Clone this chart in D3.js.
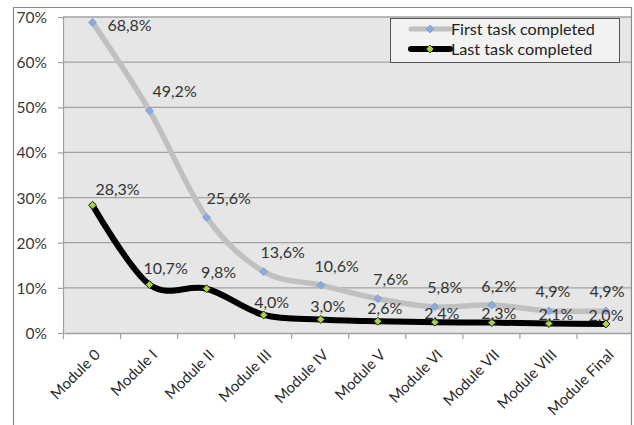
<!DOCTYPE html>
<html><head><meta charset="utf-8">
<script src="https://cdn.jsdelivr.net/npm/d3@7/dist/d3.min.js"></script>
<style>body{margin:0;background:#fff}svg{display:block;font-family:Lato,"Open Sans",sans-serif}</style>
</head><body><svg id="c" width="634" height="425"></svg>
<script>
const categories = ["Module 0","Module I","Module II","Module III","Module IV","Module V","Module VI","Module VII","Module VIII","Module Final"];
const firstTask = [68.8,49.2,25.6,13.6,10.6,7.6,5.8,6.2,4.9,4.9];
const lastTask  = [28.3,10.7,9.8,4.0,3.0,2.6,2.4,2.3,2.1,2.0];
const yTicks = [0,10,20,30,40,50,60,70];
const seriesNames = ["First task completed","Last task completed"];

const svg = d3.select("#c");
const L=64, R=634.5, T=17, B=333;
const x = d3.scaleBand().domain(categories).range([L,R]);
const y = d3.scaleLinear().domain([0,70]).range([B,T]);
const cx = c => x(c)+x.bandwidth()/2;
const fmt = v => d3.format(".1f")(v).replace(".",",")+"%";

svg.append("defs").append("clipPath").attr("id","clp").append("rect").attr("x",0).attr("y",0).attr("width",631).attr("height",425);
const g = svg.append("g").attr("clip-path","url(#clp)");

// plot area
g.append("rect").attr("x",L-1).attr("y",T).attr("width",R-L+1).attr("height",B-T).attr("fill","#e6e6e6");
// gridlines
g.selectAll(".grid").data(yTicks.filter(d=>d>0)).join("line")
  .attr("x1",L-1).attr("x2",R).attr("y1",d=>y(d)).attr("y2",d=>y(d))
  .attr("stroke","#a3a3a3").attr("stroke-width",1.3);

// axes
const yAxis = d3.axisLeft(y).tickValues(yTicks).tickSize(5).tickFormat(d=>d+"%");
const ya = g.append("g").attr("transform",`translate(${L-1},0)`).call(yAxis);
ya.select(".domain").attr("stroke","#a0a0a0").attr("stroke-width",1.2);
ya.selectAll(".tick line").attr("stroke","#a0a0a0").attr("stroke-width",1.2);
ya.selectAll(".tick text").attr("font-size",15.5).attr("fill","#383838").attr("x",-16).attr("dy","0.35em")
  .attr("font-family","Lato, sans-serif");

const xAxis = d3.axisBottom(x).tickSize(0).tickFormat("");
const xa = g.append("g").attr("transform",`translate(0,${B})`).call(xAxis);
xa.select(".domain").attr("stroke","#a0a0a0").attr("stroke-width",1.3);
// category boundary ticks
g.selectAll(".xt").data(categories).join("line")
  .attr("x1",d=>x(d)-0.5).attr("x2",d=>x(d)-0.5).attr("y1",B).attr("y2",B+6)
  .attr("stroke","#a0a0a0").attr("stroke-width",1.2);
g.selectAll(".xl").data(categories).join("text")
  .attr("transform",d=>`translate(${cx(d)+5},${B+19}) rotate(-45)`)
  .attr("text-anchor","end").attr("dy","0.35em")
  .attr("font-size",15).attr("fill","#2a2a2a").text(d=>d);

// lines
const line = d3.line().x((d,i)=>cx(categories[i])).y(d=>y(d)).curve(d3.curveCatmullRom.alpha(0));
g.append("path").datum(firstTask).attr("d",line).attr("fill","none").attr("stroke","#c0c0c0").attr("stroke-width",5.5).attr("stroke-linecap","round");
g.append("path").datum(lastTask).attr("d",line).attr("fill","none").attr("stroke","#000").attr("stroke-width",6).attr("stroke-linecap","round");

const diamond = d3.symbol().type(d3.symbolDiamond2).size(40);
g.selectAll(".m1").data(firstTask).join("path")
  .attr("transform",(d,i)=>`translate(${cx(categories[i])},${y(d)})`).attr("d",diamond)
  .attr("fill","#8eaadb").attr("stroke","#7a9ccc").attr("stroke-width",0.8);
g.selectAll(".m2").data(lastTask).join("path")
  .attr("transform",(d,i)=>`translate(${cx(categories[i])},${y(d)})`).attr("d",diamond)
  .attr("fill","#a6d24f").attr("stroke","#1a2a00").attr("stroke-width",1);

// data labels
g.selectAll(".l1").data(firstTask).join("text")
  .attr("x",(d,i)=>cx(categories[i]) + (i===0?37:Math.max(0,28-3*i)))
  .attr("y",(d,i)=>Math.max(y(d)-19,25))
  .attr("dy","0.35em").attr("text-anchor","middle").attr("font-size",16).attr("fill","#333")
  .text(d=>fmt(d));
g.selectAll(".l2").data(lastTask).join("text")
  .attr("x",(d,i)=>cx(categories[i]) + (i===0?25:(i===9?0:Math.max(7,20-4*i))))
  .attr("y",(d,i)=>y(d)-(i<3?16:i<6?13:9))
  .attr("dy","0.35em").attr("text-anchor","middle").attr("font-size",16).attr("fill","#333")
  .text(d=>fmt(d));

// legend
const lg = svg.append("g");
lg.append("rect").attr("x",390.5).attr("y",18.5).attr("width",229).attr("height",44)
  .attr("fill","#f2f2f2").attr("stroke","#555").attr("stroke-width",1);
const lrows = [{name:seriesNames[0],stroke:"#c0c0c0",w:5,mf:"#8eaadb",ms:"#7a9ccc"},{name:seriesNames[1],stroke:"#000",w:6,mf:"#a6d24f",ms:"#1a2a00"}];
lrows.forEach((r,i)=>{
  const yy = 29 + i*20;
  lg.append("line").attr("x1",411).attr("x2",450).attr("y1",yy).attr("y2",yy).attr("stroke",r.stroke).attr("stroke-width",r.w).attr("stroke-linecap","round");
  lg.append("path").attr("transform",`translate(430,${yy})`).attr("d",diamond).attr("fill",r.mf).attr("stroke",r.ms).attr("stroke-width",0.8);
  lg.append("text").attr("x",451).attr("y",yy).attr("dy","0.35em").attr("font-size",16.2).attr("fill","#222").text(r.name);
});

// outer chart border
svg.append("path").attr("d","M13.5,425 L13.5,7.5 L631.5,7.5 L631.5,425").attr("fill","none").attr("stroke","#8a8a8a").attr("stroke-width",1.2);
</script></body></html>
